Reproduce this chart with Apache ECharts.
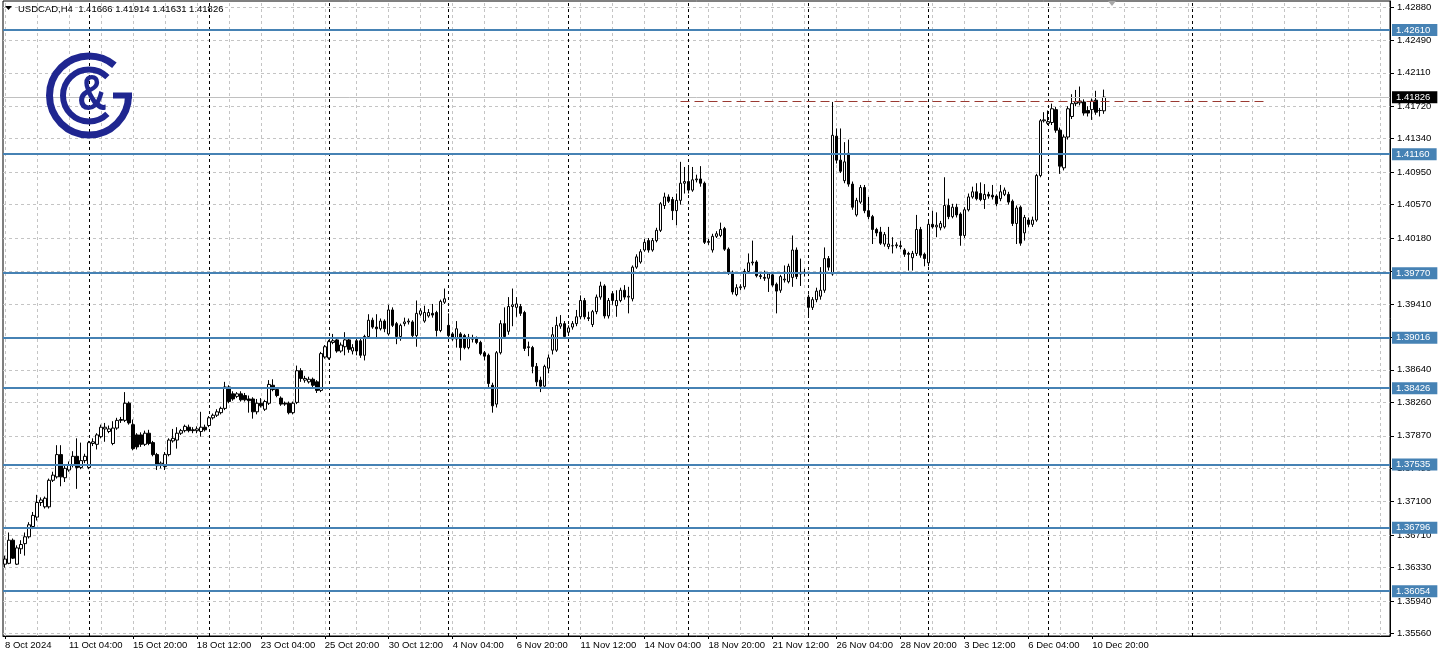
<!DOCTYPE html>
<html><head><meta charset="utf-8">
<script src="https://cdn.jsdelivr.net/npm/echarts@6.0.0/dist/echarts.min.js"></script>
<style>html,body{margin:0;padding:0;background:#fff;}#chart{width:1438px;height:658px;}</style>
</head><body><div id="chart"></div>
<script>
// ---------------- DATA ----------------
const symbolTitle = 'USDCAD,H4';
const lastBarText = ['1.41666', '1.41914', '1.41631', '1.41826'];

const xLabels = ['8 Oct 2024','11 Oct 04:00','15 Oct 20:00','18 Oct 12:00','23 Oct 04:00','25 Oct 20:00','30 Oct 12:00','4 Nov 04:00','6 Nov 20:00','11 Nov 12:00','14 Nov 04:00','18 Nov 20:00','21 Nov 12:00','26 Nov 04:00','28 Nov 20:00','3 Dec 12:00','6 Dec 04:00','10 Dec 20:00'];

const yTicks = [1.35560,1.35940,1.36330,1.36710,1.37100,1.37490,1.37870,1.38260,1.38640,1.39020,1.39410,1.39790,1.40180,1.40570,1.40950,1.41340,1.41720,1.42110,1.42490,1.42880];

const levels = [1.42610,1.41160,1.39770,1.39016,1.38426,1.37535,1.36796,1.36054];
const currentPrice = 1.41826;
const resistanceLevel = 1.41775;
const resistanceFromBar = 169;
const resistanceToBar = 315;
const weekSeparators = [21,51,81,111,141,171,201,231,261,297];

const opens = [
1.3637,1.3638,1.3665,1.3637,1.3655,1.3661,1.3669,1.3681,1.3692,1.3709,
1.3704,1.3704,1.3735,1.3739,1.3765,1.3738,1.3747,1.3753,1.3763,1.3750,
1.3758,1.3750,1.3778,1.3777,1.3786,1.3795,1.3792,1.3778,1.3796,1.3805,
1.3805,1.3825,1.3800,1.3788,1.3788,1.3777,1.3790,1.3779,1.3765,1.3753,
1.3751,1.3765,1.3781,1.3782,1.3790,1.3793,1.3797,1.3794,1.3793,1.3792,
1.3797,1.3799,1.3808,1.3811,1.3814,1.3819,1.3844,1.3836,1.3833,1.3836,
1.3834,1.3830,1.3830,1.3815,1.3825,1.3818,1.3825,1.3846,1.3841,1.3831,
1.3825,1.3825,1.3814,1.3826,1.3863,1.3852,1.3850,1.3853,1.3850,1.3840,
1.3879,1.3878,1.3896,1.3899,1.3886,1.3891,1.3899,1.3886,1.3898,1.3898,
1.3881,1.3903,1.3922,1.3914,1.3912,1.3921,1.3906,1.3934,1.3918,1.3903,
1.3918,1.3920,1.3920,1.3904,1.3929,1.3921,1.3927,1.3930,1.3931,1.3910,
1.3943,1.3916,1.3906,1.3900,1.3906,1.3904,1.3890,1.3900,1.3900,1.3896,
1.3884,1.3881,1.3846,1.3824,1.3884,1.3918,1.3909,1.3938,1.3937,1.3938,
1.3931,1.3890,1.3890,1.3868,1.3852,1.3845,1.3866,1.3887,1.3887,1.3915,
1.3918,1.3908,1.3914,1.3918,1.3926,1.3945,1.3925,1.3917,1.3932,1.3949,
1.3962,1.3927,1.3953,1.3939,1.3945,1.3957,1.3949,1.3947,1.3984,1.3990,
1.4004,1.4015,1.4004,1.4015,1.4027,1.4056,1.4066,1.4063,1.4050,1.4062,
1.4082,1.4084,1.4074,1.4086,1.4087,1.4082,1.4013,1.4004,1.4020,1.4021,
1.4029,1.4005,1.3978,1.3952,1.3960,1.3961,1.3979,1.3989,1.3990,1.3974,
1.3972,1.3971,1.3975,1.3964,1.3957,1.3969,1.3967,1.3972,1.4004,1.3976,
1.3977,1.3949,1.3937,1.3946,1.3950,1.3957,1.3994,1.3976,1.4137,1.4109,
1.4085,1.4117,1.4081,1.4045,1.4060,1.4077,1.4050,1.4043,1.4028,1.4025,
1.4011,1.4008,1.4009,1.4009,1.4009,1.4004,1.4000,1.3995,1.4000,1.4028,
1.3999,1.3989,1.4034,1.4031,1.4030,1.4031,1.4056,1.4043,1.4054,1.4046,
1.4021,1.4051,1.4066,1.4072,1.4070,1.4063,1.4069,1.4068,1.4067,1.4064,
1.4069,1.4069,1.4061,1.4035,1.4054,1.4024,1.4039,1.4034,1.4039,1.4091,
1.4155,1.4152,1.4153,1.4168,1.4144,1.4100,1.4136,1.4160,1.4175,1.4176,
1.4177,1.4167,1.4168,1.4179,1.4167,1.41666];

const highs = [
1.3647,1.3674,1.3667,1.3659,1.3665,1.3674,1.3686,1.3698,1.3718,1.3715,
1.3716,1.3737,1.3745,1.3776,1.3776,1.3752,1.3757,1.3769,1.3784,1.3779,
1.3766,1.3781,1.3784,1.3790,1.3800,1.3802,1.3799,1.3804,1.3808,1.3809,
1.3838,1.3827,1.3806,1.3790,1.3791,1.3793,1.3794,1.3781,1.3767,1.3757,
1.3768,1.3784,1.3795,1.3797,1.3795,1.3800,1.3800,1.3797,1.3798,1.3815,
1.3800,1.3810,1.3813,1.3818,1.3821,1.3850,1.3846,1.3839,1.3838,1.3839,
1.3837,1.3834,1.3832,1.3830,1.3831,1.3829,1.3852,1.3853,1.3843,1.3833,
1.3827,1.3827,1.3827,1.3869,1.3866,1.3857,1.3856,1.3855,1.3852,1.3885,
1.3893,1.3899,1.3906,1.3901,1.3896,1.3908,1.3901,1.3894,1.3900,1.3900,
1.3905,1.3929,1.3925,1.3929,1.3924,1.3923,1.3940,1.3937,1.3920,1.3918,
1.3925,1.3924,1.3922,1.3945,1.3936,1.3939,1.3935,1.3941,1.3933,1.3946,
1.3959,1.3930,1.3908,1.3921,1.3908,1.3906,1.3906,1.3905,1.3903,1.3898,
1.3886,1.3883,1.3849,1.3886,1.3922,1.3937,1.3949,1.3959,1.3949,1.3941,
1.3933,1.3897,1.3892,1.3872,1.3856,1.3870,1.3882,1.3914,1.3926,1.3928,
1.3921,1.3916,1.3921,1.3934,1.3951,1.3948,1.3932,1.3934,1.3952,1.3967,
1.3964,1.3948,1.3956,1.3957,1.3960,1.3963,1.3961,1.3986,1.3999,1.4005,
1.4017,1.4018,1.4018,1.4030,1.4060,1.4071,1.4069,1.4066,1.4070,1.4107,
1.4101,1.4101,1.4101,1.4092,1.4102,1.4084,1.4017,1.4023,1.4026,1.4036,
1.4031,1.4007,1.3980,1.3964,1.3964,1.3982,1.4000,1.4015,1.3992,1.3976,
1.3980,1.3978,1.3977,1.3966,1.3975,1.3986,1.3988,1.4021,1.4007,1.3994,
1.3982,1.3952,1.3949,1.3960,1.3984,1.4007,1.3997,1.4177,1.4146,1.4146,
1.4130,1.4133,1.4084,1.4065,1.4080,1.4080,1.4066,1.4045,1.4030,1.4031,
1.4025,1.4031,1.4019,1.4013,1.4015,1.4006,1.4002,1.4003,1.4045,1.4031,
1.4001,1.4037,1.4050,1.4048,1.4038,1.4089,1.4064,1.4058,1.4058,1.4048,
1.4054,1.4070,1.4078,1.4082,1.4083,1.4081,1.4072,1.4080,1.4069,1.4080,
1.4077,1.4072,1.4063,1.4056,1.4056,1.4045,1.4042,1.4043,1.4093,1.4157,
1.4165,1.4167,1.4175,1.4171,1.4147,1.4139,1.4172,1.4186,1.4191,1.4195,
1.4180,1.4172,1.4181,1.4190,1.4170,1.41914];

const lows = [
1.3633,1.3637,1.3643,1.3636,1.3649,1.3647,1.3667,1.3678,1.3688,1.3705,
1.3702,1.3702,1.3733,1.3737,1.3728,1.3733,1.3745,1.3750,1.3725,1.3748,
1.3755,1.3748,1.3775,1.3771,1.3784,1.3780,1.3790,1.3776,1.3794,1.3802,
1.3803,1.3800,1.3770,1.3771,1.3774,1.3775,1.3776,1.3763,1.3747,1.3749,
1.3747,1.3763,1.3779,1.3772,1.3788,1.3791,1.3791,1.3790,1.3790,1.3786,
1.3792,1.3797,1.3806,1.3809,1.3812,1.3817,1.3825,1.3828,1.3831,1.3827,
1.3827,1.3814,1.3807,1.3812,1.3820,1.3816,1.3823,1.3839,1.3832,1.3822,
1.3822,1.3812,1.3812,1.3824,1.3850,1.3849,1.3848,1.3843,1.3837,1.3838,
1.3877,1.3876,1.3894,1.3884,1.3884,1.3881,1.3884,1.3882,1.3881,1.3878,
1.3875,1.3901,1.3912,1.3900,1.3910,1.3908,1.3904,1.3914,1.3894,1.3898,
1.3915,1.3917,1.3902,1.3891,1.3927,1.3919,1.3925,1.3925,1.3903,1.3908,
1.3941,1.3902,1.3898,1.3890,1.3875,1.3888,1.3888,1.3896,1.3894,1.3881,
1.3875,1.3844,1.3814,1.3820,1.3882,1.3900,1.3905,1.3915,1.3926,1.3927,
1.3886,1.3880,1.3860,1.3845,1.3838,1.3843,1.3860,1.3882,1.3885,1.3912,
1.3900,1.3905,1.3911,1.3915,1.3923,1.3923,1.3921,1.3914,1.3929,1.3946,
1.3924,1.3924,1.3940,1.3926,1.3943,1.3946,1.3930,1.3944,1.3982,1.3988,
1.4002,1.4001,1.4002,1.4013,1.4025,1.4052,1.4059,1.4039,1.4033,1.4057,
1.4070,1.4070,1.4072,1.4083,1.4078,1.4011,1.4010,1.4001,1.4018,1.4019,
1.4003,1.3975,1.3952,1.3950,1.3957,1.3958,1.3977,1.3986,1.3972,1.3970,
1.3968,1.3955,1.3961,1.3930,1.3954,1.3966,1.3965,1.3961,1.3970,1.3962,
1.3973,1.3926,1.3934,1.3943,1.3946,1.3954,1.3980,1.3974,1.4105,1.4094,
1.4082,1.4078,1.4051,1.4043,1.4058,1.4047,1.4040,1.4011,1.4020,1.4010,
1.4008,1.4005,1.4000,1.4006,1.4005,1.3996,1.3980,1.3980,1.3997,1.3995,
1.3985,1.3985,1.4029,1.4019,1.4027,1.4029,1.4040,1.4041,1.4042,1.4009,
1.4018,1.4049,1.4064,1.4062,1.4061,1.4052,1.4064,1.4063,1.4055,1.4061,
1.4067,1.4057,1.4032,1.4011,1.4009,1.4015,1.4031,1.4031,1.4037,1.4089,
1.4153,1.4150,1.4150,1.4141,1.4093,1.4097,1.4133,1.4157,1.4172,1.4173,
1.4161,1.4160,1.4156,1.4162,1.4160,1.41631];

const closes = [
1.3643,1.3665,1.3644,1.3656,1.3660,1.3669,1.3683,1.3694,1.3709,1.3712,
1.3714,1.3735,1.3741,1.3765,1.3739,1.3749,1.3753,1.3763,1.3750,1.3758,
1.3763,1.3779,1.3780,1.3788,1.3797,1.3797,1.3795,1.3796,1.3805,1.3806,
1.3825,1.3802,1.3772,1.3774,1.3777,1.3790,1.3778,1.3765,1.3752,1.3755,
1.3765,1.3782,1.3784,1.3790,1.3793,1.3798,1.3793,1.3793,1.3795,1.3797,
1.3794,1.3808,1.3811,1.3815,1.3819,1.3844,1.3827,1.3830,1.3836,1.3829,
1.3829,1.3828,1.3815,1.3825,1.3822,1.3827,1.3847,1.3841,1.3834,1.3824,
1.3824,1.3814,1.3825,1.3863,1.3854,1.3854,1.3853,1.3846,1.3840,1.3883,
1.3891,1.3897,1.3898,1.3886,1.3893,1.3899,1.3888,1.3890,1.3886,1.3881,
1.3903,1.3922,1.3914,1.3912,1.3921,1.3912,1.3934,1.3916,1.3903,1.3916,
1.3920,1.3921,1.3904,1.3930,1.3933,1.3931,1.3931,1.3928,1.3910,1.3944,
1.3947,1.3904,1.3900,1.3912,1.3890,1.3890,1.3902,1.3900,1.3896,1.3883,
1.3880,1.3848,1.3822,1.3884,1.3918,1.3903,1.3938,1.3940,1.3941,1.3930,
1.3889,1.3891,1.3868,1.3850,1.3845,1.3868,1.3878,1.3905,1.3916,1.3918,
1.3903,1.3913,1.3918,1.3926,1.3945,1.3926,1.3924,1.3932,1.3949,1.3962,
1.3927,1.3945,1.3945,1.3945,1.3957,1.3949,1.3950,1.3984,1.3996,1.4002,
1.4013,1.4004,1.4015,1.4027,1.4058,1.4066,1.4061,1.4050,1.4062,1.4082,
1.4084,1.4074,1.4086,1.4087,1.4082,1.4013,1.4014,1.4020,1.4023,1.4028,
1.4005,1.3978,1.3955,1.3960,1.3961,1.3979,1.3989,1.3990,1.3974,1.3973,
1.3971,1.3976,1.3963,1.3956,1.3973,1.3970,1.3985,1.4004,1.3973,1.3977,
1.3978,1.3937,1.3946,1.3956,1.3957,1.3994,1.3984,1.4138,1.4109,1.4096,
1.4107,1.4081,1.4054,1.4062,1.4077,1.4050,1.4043,1.4028,1.4024,1.4012,
1.4022,1.4011,1.4009,1.4010,1.4008,1.3999,1.3999,1.4000,1.4028,1.3998,
1.3994,1.4034,1.4031,1.4033,1.4035,1.4056,1.4043,1.4054,1.4045,1.4021,
1.4051,1.4066,1.4072,1.4064,1.4063,1.4069,1.4067,1.4066,1.4058,1.4072,
1.4074,1.4060,1.4035,1.4053,1.4012,1.4042,1.4034,1.4039,1.4091,1.4155,
1.4156,1.4154,1.4169,1.4144,1.4102,1.4136,1.4169,1.4175,1.4177,1.4178,
1.4164,1.4164,1.4178,1.4165,1.4167,1.41826];

// ---------------- LAYOUT / STYLE ----------------
const FONT = '"Liberation Sans", Arial, sans-serif';
const BLUE = '#4682b4';
const LOGO = '#1f2690';
const GRIDC = '#c4c4c4';
const slotCount = 347;     // bar slots visible incl. chart shift space
const labelEvery = 16;
const gridEvery = 8;
const categories = Array.from({length: slotCount}, (_, i) => 'b' + i);
const ohlc = opens.map((o, i) => [o, closes[i], lows[i], highs[i]]);
const showLabel = (i) => i % labelEvery === 0 && (i / labelEvery) < xLabels.length;

const gridLines = [];
yTicks.forEach(v => gridLines.push({yAxis: v, lineStyle: {color: GRIDC, type: [3, 3], width: 1}}));
for (let i = 0; i < slotCount; i += gridEvery) {
  gridLines.push({xAxis: i, lineStyle: {color: GRIDC, type: [3, 3], width: 1}});
}
weekSeparators.forEach(i => gridLines.push({xAxis: i, lineStyle: {color: '#000', type: [3, 3], width: 1}}));

const boxLabel = (txt, bg) => ({
  show: true, position: 'end', distance: 2, formatter: txt,
  backgroundColor: bg, color: '#fff', fontSize: 9.5, fontFamily: FONT,
  padding: [1, 7, 1, 4], lineHeight: 10
});
const levelLines = levels.map(v => ({
  yAxis: v, lineStyle: {color: BLUE, width: 2, type: 'solid'}, label: boxLabel(v.toFixed(5), BLUE)
}));
levelLines.push({yAxis: currentPrice, lineStyle: {color: '#c0c0c0', width: 1, type: 'solid'}, label: boxLabel(currentPrice.toFixed(5), '#000')});
levelLines.push([
  {coord: [resistanceFromBar, resistanceLevel], lineStyle: {color: '#9a3a32', width: 1, type: [9, 5]}, label: {show: false}},
  {coord: [resistanceToBar, resistanceLevel]}
]);

const chart = echarts.init(document.getElementById('chart'), null, {renderer: 'canvas'});
chart.setOption({
  animation: false,
  backgroundColor: '#ffffff',
  grid: {left: 3, right: 48, top: 1, bottom: 22, show: true, borderColor: '#000', borderWidth: 1, backgroundColor: 'transparent'},
  xAxis: {
    type: 'category', data: categories, boundaryGap: true,
    axisLine: {show: true, lineStyle: {color: '#000', width: 1}},
    axisTick: {show: true, alignWithLabel: true, interval: (i) => showLabel(i), length: 3, lineStyle: {color: '#000'}},
    axisLabel: {interval: (i) => showLabel(i), formatter: (v, i) => (showLabel(i) ? xLabels[i / labelEvery] : ''),
      align: 'left', margin: 4, fontSize: 9.5, color: '#000', fontFamily: FONT},
    splitLine: {show: false}
  },
  yAxis: {
    type: 'value', position: 'right', min: 1.35531, max: 1.42949,
    axisLine: {show: true, lineStyle: {color: '#000'}},
    axisTick: {show: true, customValues: yTicks, length: 4, lineStyle: {color: '#000'}},
    axisLabel: {customValues: yTicks, formatter: (v) => Number(v).toFixed(5), margin: 7, fontSize: 9.5, color: '#000', fontFamily: FONT},
    splitLine: {show: false}
  },
  series: [
    {type: 'line', data: [], silent: true, z: 1,
     markLine: {silent: true, z: 1, symbol: ['none', 'none'], precision: 6, animation: false, label: {show: false}, data: gridLines}},
    {type: 'candlestick', data: ohlc, barWidth: 3, z: 2, silent: true,
     itemStyle: {color: '#ffffff', color0: '#000000', borderColor: '#000000', borderColor0: '#000000', borderWidth: 1}},
    {type: 'line', data: [], silent: true, z: 5,
     markLine: {silent: true, z: 5, symbol: ['none', 'none'], precision: 6, animation: false, data: levelLines}}
  ],
  graphic: [
    {type: 'polygon', z: 100, shape: {points: [[5, 6], [12, 6], [8.5, 10]]}, style: {fill: '#000'}},
    {type: 'text', z: 100, left: 18, top: 4, style: {text: symbolTitle + '  ' + lastBarText.join(' '), font: '9.5px ' + FONT, fill: '#000'}},
    {type: 'polygon', z: 100, shape: {points: [[1108, 1], [1116, 1], [1112, 6]]}, style: {fill: '#a8a8a8'}},
    {type: 'arc', z: 100, shape: {cx: 89, cy: 95.5, r: 39.5, startAngle: 0, endAngle: 310 * Math.PI / 180, clockwise: true},
     style: {stroke: LOGO, lineWidth: 7, fill: null}},
    {type: 'rect', z: 100, shape: {x: 113, y: 92.5, width: 19, height: 6}, style: {fill: LOGO}},
    {type: 'arc', z: 100, shape: {cx: 89, cy: 95.5, r: 26, startAngle: 45 * Math.PI / 180, endAngle: 315 * Math.PI / 180, clockwise: true},
     style: {stroke: LOGO, lineWidth: 6, fill: null}},
    {type: 'text', z: 100, x: 92, y: 96, scaleX: 0.82, style: {text: '&', font: 'bold 50px ' + FONT, fill: LOGO, align: 'center', verticalAlign: 'middle'}}
  ]
});
</script>
</body></html>
